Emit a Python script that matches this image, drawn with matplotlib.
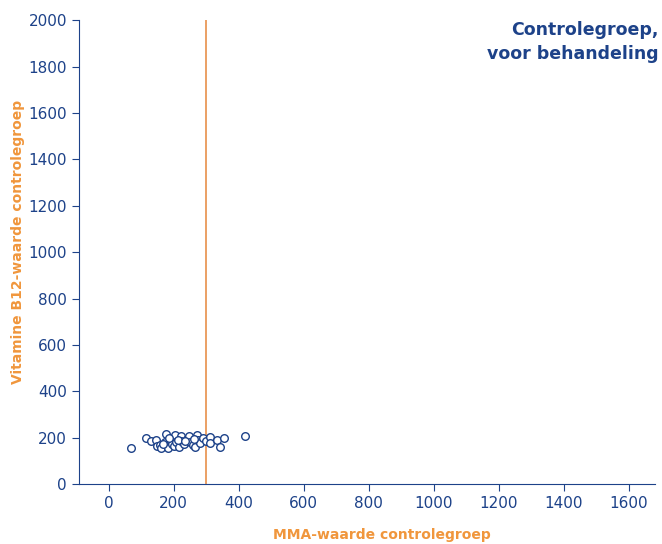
import matplotlib
matplotlib.use("Agg")
import matplotlib.pyplot as plt

# MMA- en B12-waarden controlegroep
mma = [68, 114, 129, 147, 149, 157, 162, 175, 172, 183, 190, 196, 203, 200, 208,
       215, 224, 222, 232, 240, 246, 250, 258, 265, 272, 276, 282, 290, 298, 311,
       311, 334, 342, 354, 418, 186, 212, 236, 262, 168]
b12 = [158, 197, 188, 190, 164, 168, 158, 216, 182, 154, 190, 175, 211, 165, 180,
       160, 208, 188, 172, 196, 208, 182, 170, 161, 211, 190, 178, 200, 186, 204,
       176, 190, 161, 197, 207, 198, 192, 185, 195, 174]
grens = 300

blauw = "#1d4289"
oranje = "#f0963c"

fig = plt.figure(figsize=(6.62, 5.44), dpi=100)
ax = fig.add_axes([0.119, 0.110, 0.870, 0.853])

ax.scatter(mma, b12, s=30, facecolors="white", edgecolors=blauw, linewidths=1.0, zorder=3)
ax.axvline(grens, color="#e8904a", linewidth=1.2, zorder=2)

ax.set_xlim(-92, 1680)
ax.set_ylim(0, 2000)
ax.set_xticks(range(0, 1601, 200))
ax.set_yticks(range(0, 2001, 200))

for s in ["top", "right"]:
    ax.spines[s].set_visible(False)
for s in ["left", "bottom"]:
    ax.spines[s].set_color(blauw)
ax.tick_params(colors=blauw, labelsize=11, length=5)

fig.text(0.577, 0.017, "MMA-waarde controlegroep", ha="center", va="center",
         color=oranje, fontsize=10, fontweight="bold")
fig.text(0.027, 0.555, "Vitamine B12-waarde controlegroep", ha="center", va="center",
         rotation=90, color=oranje, fontsize=10, fontweight="bold")

fig.text(0.995, 0.962, "Controlegroep,\nvoor behandeling", ha="right", va="top",
         color=blauw, fontsize=12.5, fontweight="semibold", linespacing=1.45)

fig.savefig("out.png", dpi=100)
